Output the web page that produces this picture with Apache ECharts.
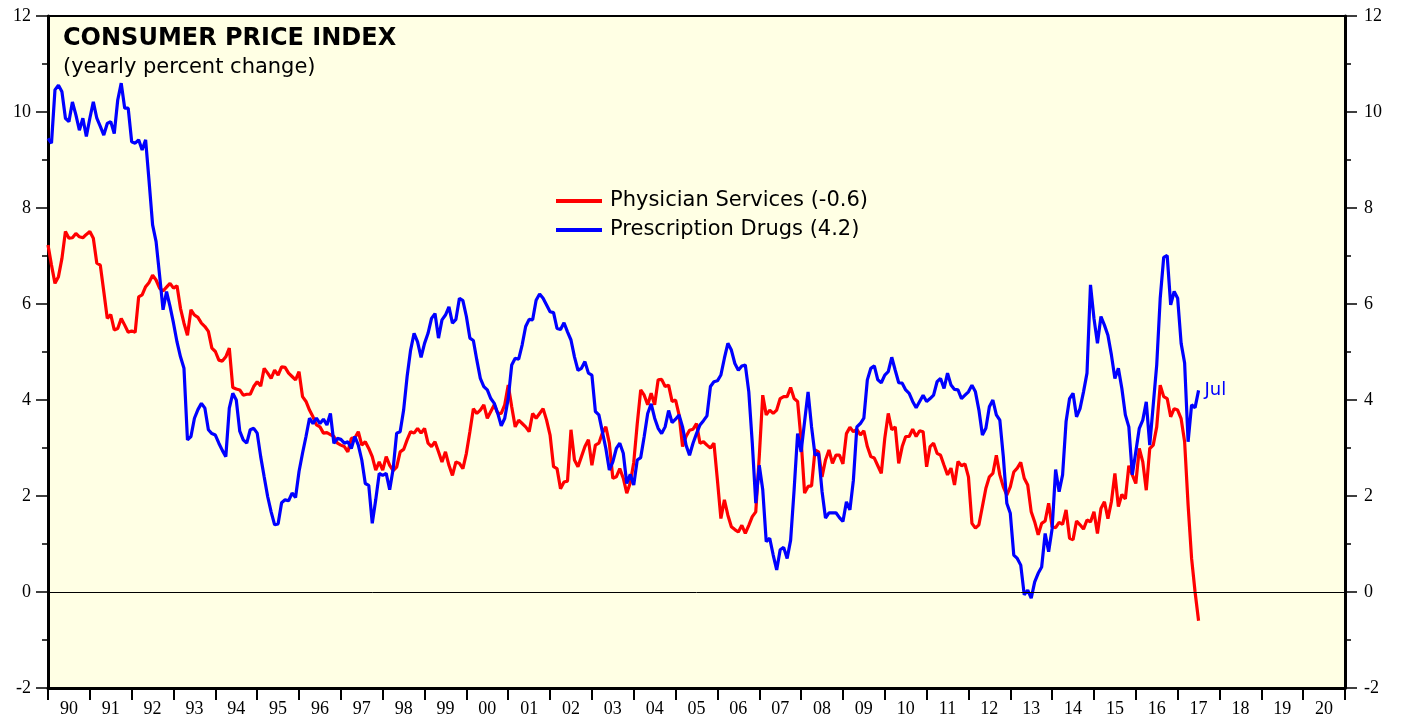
<!DOCTYPE html>
<html>
<head>
<meta charset="utf-8">
<title>Consumer Price Index</title>
<script src="https://cdn.jsdelivr.net/npm/echarts@6/dist/echarts.min.js"></script>
<style>
  html, body { margin: 0; padding: 0; background: #ffffff; }
  #main { width: 1403px; height: 719px; }
</style>
</head>
<body>
<div id="main"></div>
<script>
// year labels under the x axis (1990 - 2020)
var yearLabels = ['90','91','92','93','94','95','96','97','98','99',
	'00','01','02','03','04','05','06','07','08','09',
	'10','11','12','13','14','15','16','17','18','19','20'];

// monthly values, Jan 1990 - Jul 2017 (yearly percent change)
var physician = [
	7.23, 6.81, 6.43, 6.57, 6.95, 7.51, 7.37, 7.38, 7.47, 7.40, 7.38, 7.45,   // 1990
	7.51, 7.37, 6.85, 6.81, 6.26, 5.70, 5.78, 5.46, 5.49, 5.70, 5.56, 5.41,   // 1991
	5.44, 5.41, 6.15, 6.19, 6.36, 6.45, 6.60, 6.50, 6.33, 6.27, 6.35, 6.43,   // 1992
	6.33, 6.38, 5.91, 5.60, 5.35, 5.88, 5.77, 5.72, 5.60, 5.53, 5.43, 5.08,   // 1993
	5.01, 4.83, 4.81, 4.90, 5.08, 4.26, 4.23, 4.21, 4.10, 4.12, 4.12, 4.28,   // 1994
	4.38, 4.29, 4.66, 4.56, 4.45, 4.62, 4.52, 4.69, 4.68, 4.56, 4.49, 4.42,   // 1995
	4.59, 4.07, 3.97, 3.79, 3.65, 3.48, 3.44, 3.31, 3.32, 3.28, 3.24, 3.10,   // 1996
	3.06, 3.03, 2.92, 3.20, 3.21, 3.34, 3.06, 3.13, 2.99, 2.82, 2.54, 2.71,   // 1997
	2.54, 2.82, 2.64, 2.53, 2.60, 2.92, 2.97, 3.17, 3.34, 3.31, 3.41, 3.31,   // 1998
	3.41, 3.10, 3.03, 3.13, 2.92, 2.71, 2.92, 2.64, 2.43, 2.71, 2.68, 2.57,   // 1999
	2.89, 3.34, 3.82, 3.72, 3.79, 3.90, 3.62, 3.76, 3.90, 3.72, 3.72, 3.90,   // 2000
	4.31, 3.86, 3.44, 3.58, 3.51, 3.44, 3.34, 3.72, 3.62, 3.72, 3.82, 3.58,   // 2001
	3.27, 2.61, 2.57, 2.15, 2.29, 2.31, 3.38, 2.75, 2.61, 2.82, 3.03, 3.17,   // 2002
	2.64, 3.06, 3.10, 3.31, 3.44, 3.10, 2.37, 2.40, 2.57, 2.37, 2.06, 2.27,   // 2003
	2.70, 3.50, 4.21, 4.10, 3.90, 4.14, 3.90, 4.42, 4.43, 4.28, 4.31, 3.97,   // 2004
	4.00, 3.69, 3.03, 3.24, 3.37, 3.39, 3.51, 3.10, 3.13, 3.06, 3.00, 3.10,   // 2005
	2.33, 1.53, 1.92, 1.60, 1.36, 1.30, 1.25, 1.39, 1.22, 1.39, 1.57, 1.67,   // 2006
	2.82, 4.10, 3.69, 3.79, 3.72, 3.79, 4.03, 4.07, 4.07, 4.26, 4.03, 3.97,   // 2007
	3.17, 2.06, 2.20, 2.21, 2.96, 2.92, 2.40, 2.75, 2.96, 2.68, 2.85, 2.85,   // 2008
	2.67, 3.30, 3.43, 3.34, 3.39, 3.27, 3.36, 3.03, 2.82, 2.79, 2.63, 2.47,   // 2009
	3.20, 3.72, 3.38, 3.44, 2.68, 3.03, 3.24, 3.24, 3.39, 3.24, 3.36, 3.34,   // 2010
	2.61, 3.03, 3.10, 2.89, 2.85, 2.64, 2.44, 2.58, 2.23, 2.72, 2.63, 2.67,   // 2011
	2.40, 1.43, 1.33, 1.40, 1.78, 2.16, 2.40, 2.47, 2.85, 2.44, 2.19, 2.02,   // 2012
	2.19, 2.50, 2.58, 2.70, 2.37, 2.23, 1.67, 1.46, 1.19, 1.43, 1.48, 1.85,   // 2013
	1.36, 1.34, 1.45, 1.41, 1.71, 1.12, 1.09, 1.48, 1.40, 1.31, 1.50, 1.46,   // 2014
	1.67, 1.22, 1.74, 1.88, 1.53, 1.88, 2.47, 1.78, 2.03, 1.94, 2.63, 2.44,   // 2015
	2.26, 2.99, 2.71, 2.12, 2.99, 3.06, 3.44, 4.31, 4.07, 4.03, 3.65, 3.82,   // 2016
	3.79, 3.61, 3.13, 1.81, 0.70, 0.00, -0.60                                 // 2017
];

var drugs = [
	9.45, 9.35, 10.46, 10.56, 10.42, 9.87, 9.80, 10.21, 9.94, 9.62, 9.87, 9.49,   // 1990
	9.87, 10.21, 9.87, 9.70, 9.52, 9.76, 9.80, 9.55, 10.25, 10.60, 10.08, 10.08,  // 1991
	9.38, 9.35, 9.42, 9.21, 9.42, 8.55, 7.65, 7.30, 6.60, 5.88, 6.26, 5.95,       // 1992
	5.60, 5.21, 4.90, 4.66, 3.17, 3.24, 3.62, 3.80, 3.93, 3.83, 3.38, 3.30,       // 1993
	3.27, 3.10, 2.95, 2.82, 3.83, 4.14, 4.00, 3.35, 3.17, 3.10, 3.38, 3.41,       // 1994
	3.31, 2.82, 2.40, 1.99, 1.67, 1.40, 1.42, 1.86, 1.92, 1.90, 2.06, 1.97,       // 1995
	2.51, 2.89, 3.24, 3.62, 3.51, 3.62, 3.51, 3.60, 3.48, 3.72, 3.10, 3.20,       // 1996
	3.18, 3.10, 3.13, 2.99, 3.24, 3.06, 2.75, 2.26, 2.22, 1.43, 1.92, 2.47,       // 1997
	2.43, 2.47, 2.13, 2.57, 3.31, 3.34, 3.79, 4.49, 5.04, 5.39, 5.21, 4.89,       // 1998
	5.18, 5.39, 5.70, 5.80, 5.29, 5.67, 5.77, 5.94, 5.60, 5.68, 6.12, 6.07,       // 1999
	5.74, 5.29, 5.24, 4.83, 4.45, 4.28, 4.21, 4.03, 3.93, 3.72, 3.46, 3.62,       // 2000
	4.03, 4.73, 4.87, 4.85, 5.15, 5.53, 5.68, 5.67, 6.08, 6.21, 6.12, 5.98,       // 2001
	5.84, 5.82, 5.49, 5.47, 5.61, 5.42, 5.25, 4.90, 4.62, 4.66, 4.80, 4.56,       // 2002
	4.52, 3.76, 3.69, 3.34, 2.99, 2.54, 2.71, 2.99, 3.10, 2.89, 2.26, 2.45,       // 2003
	2.23, 2.75, 2.80, 3.24, 3.72, 3.92, 3.62, 3.41, 3.30, 3.44, 3.78, 3.53,       // 2004
	3.60, 3.69, 3.44, 3.06, 2.85, 3.10, 3.30, 3.48, 3.57, 3.67, 4.28, 4.38,       // 2005
	4.40, 4.52, 4.87, 5.18, 5.04, 4.76, 4.62, 4.71, 4.73, 4.17, 3.10, 1.85,       // 2006
	2.64, 2.13, 1.05, 1.12, 0.77, 0.46, 0.88, 0.93, 0.70, 1.08, 2.13, 3.30,       // 2007
	2.92, 3.55, 4.17, 3.44, 2.85, 2.89, 2.10, 1.54, 1.65, 1.65, 1.65, 1.55,       // 2008
	1.47, 1.88, 1.71, 2.33, 3.44, 3.51, 3.62, 4.42, 4.66, 4.71, 4.42, 4.36,       // 2009
	4.52, 4.59, 4.89, 4.62, 4.36, 4.35, 4.21, 4.14, 3.97, 3.84, 3.97, 4.10,       // 2010
	3.97, 4.03, 4.10, 4.38, 4.45, 4.24, 4.56, 4.31, 4.22, 4.21, 4.03, 4.10,       // 2011
	4.17, 4.31, 4.17, 3.79, 3.27, 3.41, 3.86, 4.00, 3.69, 3.58, 2.82, 1.85,       // 2012
	1.64, 0.77, 0.70, 0.56, -0.06, 0.04, -0.13, 0.21, 0.39, 0.52, 1.22, 0.84,     // 2013
	1.32, 2.55, 2.09, 2.44, 3.55, 4.03, 4.14, 3.65, 3.82, 4.17, 4.56, 6.40,       // 2014
	5.70, 5.18, 5.74, 5.56, 5.35, 4.94, 4.45, 4.66, 4.24, 3.69, 3.44, 2.44,       // 2015
	2.92, 3.41, 3.58, 3.96, 3.06, 3.90, 4.73, 6.12, 6.97, 7.01, 5.98, 6.26,       // 2016
	6.12, 5.18, 4.77, 3.13, 3.90, 3.84, 4.20                                      // 2017
];

var seriesNames = ['Physician Services (-0.6)', 'Prescription Drugs (4.2)'];

// turn monthly list into [year, value] pairs
function toPoints(values) {
	var pts = [];
	for (var i = 0; i < values.length; i++) {
		pts.push([1990 + i / 12, values[i]]);
	}
	return pts;
}

var sansFont = 'DejaVu Sans';
var serifFont = 'Liberation Serif';

function yAxisCfg(pos) {
	return {
		type : 'value',
		position : pos,
		min : -2,
		max : 12,
		interval : 2,
		axisLine : { show : true, onZero : false, lineStyle : { color : '#000', width : 3 } },
		axisTick : { show : true, length : 12, lineStyle : { color : '#000', width : 1.5 } },
		minorTick : { show : true, splitNumber : 2, length : 6, lineStyle : { color : '#000', width : 1.5 } },
		axisLabel : { color : '#000', fontFamily : serifFont, fontSize : 18, margin : pos == 'left' ? 17 : 19 },
		splitLine : { show : false },
		minorSplitLine : { show : false }
	};
}

var myChart = echarts.init(document.getElementById('main'));
var option = {
	animation : false,
	backgroundColor : '#ffffff',
	title : {
		text : 'CONSUMER PRICE INDEX',
		subtext : '(yearly percent change)',
		left : 58,
		top : 22,
		itemGap : 6,
		textStyle : { color : '#000', fontFamily : sansFont, fontWeight : 'bold', fontSize : 24 },
		subtextStyle : { color : '#000', fontFamily : sansFont, fontSize : 21 }
	},
	legend : {
		orient : 'vertical',
		left : 551,
		top : 185,
		itemWidth : 46,
		itemHeight : 4,
		itemGap : 7,
		icon : 'rect',
		data : seriesNames,
		textStyle : { color : '#000', fontFamily : sansFont, fontSize : 21, lineHeight : 22, padding : [0, 0, 0, 3] }
	},
	grid : {
		left : 48,
		right : 58,
		top : 16,
		bottom : 31,
		show : true,
		backgroundColor : '#FFFFE4',
		borderColor : '#000',
		borderWidth : 2
	},
	xAxis : [{
		// labels centred in each year, ticks on the year boundaries
		type : 'category',
		data : yearLabels,
		boundaryGap : true,
		position : 'bottom',
		axisLine : { show : true, onZero : false, lineStyle : { color : '#000', width : 3 } },
		axisTick : { show : true, alignWithLabel : false, length : 12, lineStyle : { color : '#000', width : 2 } },
		axisLabel : { color : '#000', fontFamily : serifFont, fontSize : 18, margin : 12, interval : 0 },
		splitLine : { show : false }
	}, {
		// time scale used by the lines
		type : 'value',
		min : 1990,
		max : 2021,
		show : false
	}],
	yAxis : [yAxisCfg('left'), yAxisCfg('right')],
	series : [{
		name : seriesNames[0],
		type : 'line',
		xAxisIndex : 1,
		yAxisIndex : 0,
		data : toPoints(physician),
		showSymbol : false,
		symbol : 'none',
		color : '#FF0000',
		lineStyle : { color : '#FF0000', width : 3.2 },
		markLine : {
			silent : true,
			symbol : ['none', 'none'],
			label : { show : false },
			lineStyle : { color : '#000', width : 1, type : 'solid' },
			data : [{ yAxis : 0 }]
		}
	}, {
		name : seriesNames[1],
		type : 'line',
		xAxisIndex : 1,
		yAxisIndex : 0,
		data : toPoints(drugs),
		showSymbol : false,
		symbol : 'none',
		color : '#0000FF',
		lineStyle : { color : '#0000FF', width : 3.2 },
		endLabel : {
			show : true,
			formatter : 'Jul',
			color : '#0000FF',
			fontFamily : sansFont,
			fontSize : 18,
			distance : 6
		}
	}]
};
myChart.setOption(option);
</script>
</body>
</html>
